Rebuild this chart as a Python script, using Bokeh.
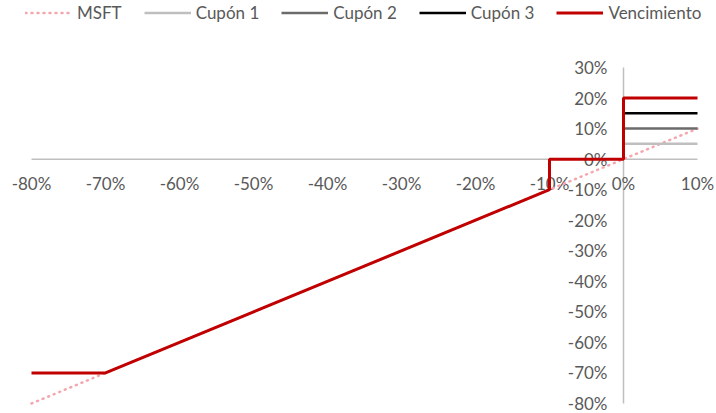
from bokeh.plotting import figure
from bokeh.models import Legend, LegendItem, Range1d, ColumnDataSource
from bokeh.core.properties import value
from bokeh.embed import file_html
from bokeh.resources import INLINE

# Data (percent)
msft_x = [-80, 10]
msft_y = [-80, 10]
cupon1_x = [0, 10]
cupon1_y = [5, 5]
cupon2_x = [0, 10]
cupon2_y = [10, 10]
cupon3_x = [0, 10]
cupon3_y = [15, 15]
venc_x = [-80, -70, -10, -10, 0, 0, 10]
venc_y = [-70, -70, -10, 0, 0, 20, 20]
x_ticks = [-80, -70, -60, -50, -40, -30, -20, -10, 0, 10]
y_ticks = [-80, -70, -60, -50, -40, -30, -20, -10, 0, 10, 20, 30]
x_labels = [f"{v}%" for v in x_ticks]
y_labels = [f"{v}%" for v in y_ticks]

FONT = "Lato"
TXT = "#595959"
AX = "#bfbfbf"

W, H = 716, 413
L, R, T, B = 31, 697, 67, 403   # plot area in pixels
px_x = (R - L) / (x_ticks[-1] - x_ticks[0])
px_y = (B - T) / (y_ticks[-1] - y_ticks[0])
x_rng = Range1d(x_ticks[0] - L / px_x, x_ticks[-1] + (W - R) / px_x)
y_rng = Range1d(y_ticks[0] - (H - B) / px_y, y_ticks[-1] + T / px_y)

p = figure(width=W, height=H, output_backend="svg", toolbar_location=None,
           x_range=x_rng, y_range=y_rng,
           x_axis_location=None, y_axis_location=None,
           min_border=0)
p.outline_line_color = None
p.grid.visible = False

# axis lines crossing at zero
p.line([x_ticks[0], x_ticks[-1]], [0, 0], line_color=AX, line_width=1.5)
p.line([0, 0], [y_ticks[0], y_ticks[-1]], line_color=AX, line_width=1.5)

# tick labels
xs = ColumnDataSource(dict(x=x_ticks, y=[0] * len(x_ticks), t=x_labels))
ys = ColumnDataSource(dict(x=[0] * len(y_ticks), y=y_ticks, t=y_labels))
p.text(x="x", y="y", text="t", source=xs, text_font=value(FONT), text_font_size="17px",
       text_color=TXT, text_align="center", text_baseline="middle", y_offset=24)
p.text(x="x", y="y", text="t", source=ys, text_font=value(FONT), text_font_size="17px",
       text_color=TXT, text_align="right", text_baseline="middle", x_offset=-16)

r_msft = p.line(msft_x, msft_y, line_color="#f4a6ae", line_width=2.5, line_dash="1 5", line_cap="round")
r_c1 = p.line(cupon1_x, cupon1_y, line_color="#bfbfbf", line_width=2.5)
r_c2 = p.line(cupon2_x, cupon2_y, line_color="#6b6b6b", line_width=2.5)
r_c3 = p.line(cupon3_x, cupon3_y, line_color="#000000", line_width=2.5)
r_v = p.line(venc_x, venc_y, line_color="#c00000", line_width=3)

legend = Legend(items=[LegendItem(label="MSFT", renderers=[r_msft]),
                       LegendItem(label="Cupón 1", renderers=[r_c1]),
                       LegendItem(label="Cupón 2", renderers=[r_c2]),
                       LegendItem(label="Cupón 3", renderers=[r_c3]),
                       LegendItem(label="Vencimiento", renderers=[r_v])],
                orientation="horizontal", location=(25, H - 23),
                border_line_color=None, background_fill_alpha=0,
                label_text_font=FONT, label_text_font_size="17px", label_text_color=TXT,
                glyph_width=47, glyph_height=15, label_height=15,
                label_standoff=5, spacing=22, padding=0, margin=0)
p.add_layout(legend, "center")

open("out.html", "w").write(file_html(p, INLINE))
